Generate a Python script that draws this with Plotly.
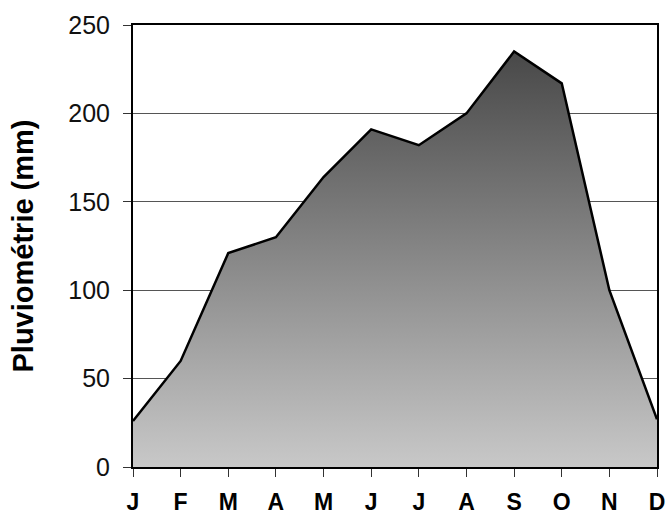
import plotly.graph_objects as go

months = ["J", "F", "M", "A", "M", "J", "J", "A", "S", "O", "N", "D"]
rain_mm = [26, 60, 121, 130, 164, 191, 182, 200, 235, 217, 100, 27]
y_ticks = [0, 50, 100, 150, 200, 250]

x_pos = list(range(len(months)))

fig = go.Figure()
fig.add_trace(go.Scatter(
    x=x_pos, y=rain_mm, mode="lines", fill="tozeroy",
    line=dict(color="black", width=2.5),
    fillgradient=dict(type="vertical", start=0, stop=250,
                      colorscale=[[0, "#c8c8c8"], [1, "#404040"]]),
    hoverinfo="skip", showlegend=False,
))

font = "Liberation Sans, Arial, sans-serif"
fig.update_layout(
    width=666, height=517,
    margin=dict(l=133, r=9, t=25, b=50),
    paper_bgcolor="white", plot_bgcolor="white",
    font=dict(family=font, color="black"),
)
fig.update_xaxes(
    range=[0, 11], tickvals=x_pos, ticktext=months,
    showgrid=False, zeroline=False, automargin=False,
    showline=True, linecolor="black", linewidth=2, mirror=True,
    ticks="outside", ticklen=8, tickcolor="#333", tickwidth=1,
    tickfont=dict(family=font, size=23, color="black", weight="bold"),
    ticklabelstandoff=5,
)
fig.update_yaxes(
    range=[0, 250], tickvals=y_ticks, automargin=False,
    showgrid=True, gridcolor="#555", gridwidth=1, zeroline=False,
    showline=True, linecolor="black", linewidth=2, mirror=True,
    ticks="outside", ticklen=8, tickcolor="#333", tickwidth=1,
    tickfont=dict(family=font, size=25, color="#111"),
    ticklabelstandoff=8,
    title=dict(text="Pluviométrie (mm)", standoff=26,
               font=dict(family=font, size=29, color="black", weight="bold")),
)

fig.write_html("out.html")
